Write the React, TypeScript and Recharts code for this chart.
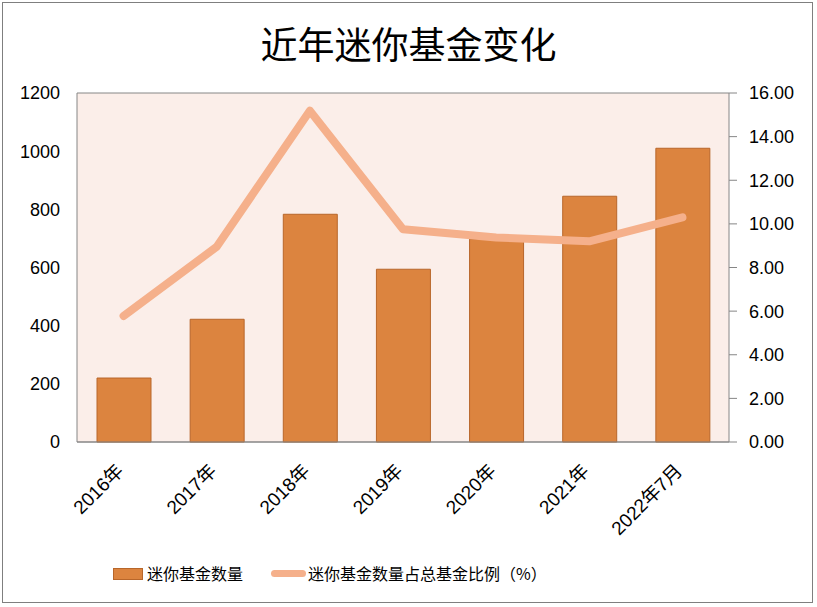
import React from 'react';
import { ComposedChart, Bar, Line, XAxis, YAxis, CartesianGrid } from 'recharts';

const categories = ['2016年', '2017年', '2018年', '2019年', '2020年', '2021年', '2022年7月'];
const fundCount = [220, 422, 783, 594, 698, 845, 1010];
const fundRatio = [5.78, 8.95, 15.19, 9.75, 9.38, 9.2, 10.3];
const leftTicks = [0, 200, 400, 600, 800, 1000, 1200];
const rightTicks = [0, 2, 4, 6, 8, 10, 12, 14, 16];

const data = categories.map((c, i) => ({ name: c, count: fundCount[i], ratio: fundRatio[i] }));

const BAR_COLOR = '#dc843f';
const LINE_COLOR = '#f5b08b';
const FONT = '"Liberation Sans", "Noto Sans CJK SC", sans-serif';

const XTick = (props: any) => {
  const { x, y, payload } = props;
  return (
    <g transform={`translate(${x + 1},${y + 22})`}>
      <text x={0} y={0} textAnchor="end" transform="rotate(-45)" fontSize={19} fill="#000" fontFamily={FONT}>
        {payload.value}
      </text>
    </g>
  );
};

export default function App() {
  return (
    <div style={{ position: 'fixed', left: 0, top: 0, width: 817, height: 607, background: '#fff' }}>
      <div style={{ position: 'absolute', left: 2, top: 2, width: 811, height: 601, border: '1px solid #7f7f7f', boxSizing: 'border-box' }} />
      <div style={{ position: 'absolute', left: 0, top: 18, width: 817, textAlign: 'center', fontFamily: '"Noto Sans CJK SC", sans-serif', fontSize: 37, color: '#000', lineHeight: '50px' }}>
        近年迷你基金变化
      </div>
      <div style={{ position: 'absolute', left: 0, top: 0 }}>
        <ComposedChart width={817} height={607} data={data} margin={{ top: 93, right: 8, bottom: 135, left: 8 }} barSize={54}>
          <CartesianGrid vertical={false} stroke="#868686" fill="#fbeee9" strokeWidth={1} />
          <XAxis dataKey="name" height={30} axisLine={{ stroke: '#868686' }} tickLine={false} tick={<XTick />} interval={0} />
          <YAxis yAxisId="left" orientation="left" width={69} domain={[0, 1200]} ticks={leftTicks}
            axisLine={{ stroke: '#868686' }} tickLine={false} tickSize={6} tickMargin={11}
            tick={{ fontSize: 18, fill: '#000', fontFamily: FONT }} />
          <YAxis yAxisId="right" orientation="right" width={80} domain={[0, 16]} ticks={rightTicks}
            axisLine={{ stroke: '#868686' }} tickLine={{ stroke: '#868686' }} tickSize={8} tickMargin={12}
            tickFormatter={(v: number) => v.toFixed(2)}
            tick={{ fontSize: 18, fill: '#000', fontFamily: FONT, textAnchor: 'start' }} />
          <Bar yAxisId="left" dataKey="count" fill={BAR_COLOR} stroke="#b8662a" strokeWidth={1} isAnimationActive={false} />
          <Line yAxisId="right" dataKey="ratio" stroke={LINE_COLOR} strokeWidth={8} dot={false} activeDot={false}
            strokeLinecap="round" strokeLinejoin="round" isAnimationActive={false} />
        </ComposedChart>
      </div>
      <div style={{ position: 'absolute', left: 113, top: 560, height: 26, display: 'flex', alignItems: 'center', fontFamily: '"Noto Sans CJK SC", sans-serif', fontSize: 16, color: '#000' }}>
        <div style={{ width: 30, height: 12, background: BAR_COLOR, border: '1px solid #b8662a', boxSizing: 'border-box', marginTop: 2 }} />
        <span style={{ marginLeft: 4 }}>迷你基金数量</span>
        <div style={{ width: 35, height: 7, background: LINE_COLOR, borderRadius: 4, marginLeft: 28 }} />
        <span style={{ marginLeft: 2 }}>迷你基金数量占总基金比例（%）</span>
      </div>
    </div>
  );
}
